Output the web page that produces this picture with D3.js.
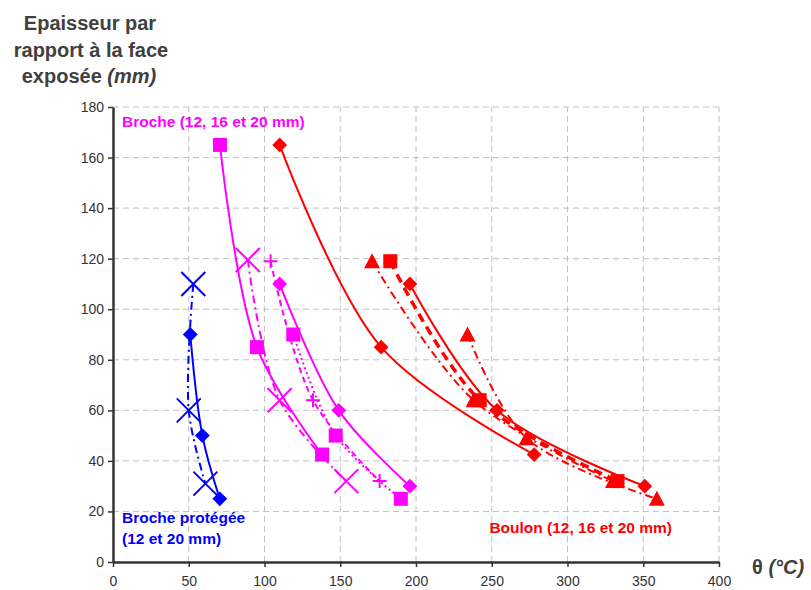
<!DOCTYPE html>
<html>
<head>
<meta charset="utf-8">
<script src="https://cdn.jsdelivr.net/npm/d3@7.9.0/dist/d3.min.js"></script>
<style>
  body { margin: 0; background: #fff; }
  svg { font-family: "Liberation Sans", Arial, sans-serif; }
</style>
</head>
<body>
<div id="chart"></div>
<script>
// Chart size
const width = 811;
const height = 590;

// Axis ticks
const xTicks = [0, 50, 100, 150, 200, 250, 300, 350, 400];
const yTicks = [0, 20, 40, 60, 80, 100, 120, 140, 160, 180];

// Broche protégée (blue)
const blueDiamond = [[51, 90], [59, 50], [70.5, 25]];
const blueX = [[53, 110], [50, 60], [61, 31]];

// Broche (magenta)
const magSquareA = [[70.6, 165], [95, 85], [138, 42.5]];
const magX = [[89, 119.5], [110, 64], [154, 32]];
const magDiamond = [[110, 110], [149, 60], [196, 30]];
const magPlus = [[104, 119], [132, 64], [176, 32]];
const magSquareB = [[119, 90], [147, 50], [190, 25]];

// Boulon (red)
const redDiamondA = [[110, 165], [177, 85], [278, 42.5]];
const redDiamondB = [[196, 110], [253.5, 60], [351, 30]];
const redSquare = [[183, 119], [242, 64], [333, 32]];
const redTriA = [[171, 119], [238, 64], [330, 32]];
const redTriB = [[234, 90], [273, 49], [359, 25]];

const BLUE = "#0000ff";
const MAGENTA = "#ff00ff";
const RED = "#ff0000";

const series = [
  { data: blueDiamond, color: BLUE, marker: "diamond", dash: null, sw: 2 },
  { data: blueX, color: BLUE, marker: "x", dash: "8,4,2,4", sw: 2 },
  { data: magSquareA, color: MAGENTA, marker: "square", dash: null, sw: 2 },
  { data: magX, color: MAGENTA, marker: "x", dash: "8,4,2,4", sw: 2 },
  { data: magDiamond, color: MAGENTA, marker: "diamond", dash: null, sw: 2 },
  { data: magPlus, color: MAGENTA, marker: "plus", dash: "6,4", sw: 2 },
  { data: magSquareB, color: MAGENTA, marker: "square", dash: "2,3", sw: 2 },
  { data: redDiamondA, color: RED, marker: "diamond", dash: null, sw: 2 },
  { data: redDiamondB, color: RED, marker: "diamond", dash: null, sw: 2 },
  { data: redSquare, color: RED, marker: "square", dash: "9,6", sw: 3.5 },
  { data: redTriA, color: RED, marker: "triangle", dash: "8,4,2,4", sw: 2 },
  { data: redTriB, color: RED, marker: "triangle", dash: "8,4,2,4", sw: 2 }
];

const xScale = d3.scaleLinear().domain([0, 400]).range([113, 719]);
const yScale = d3.scaleLinear().domain([0, 180]).range([562, 107]);

const svg = d3.select("#chart").append("svg")
  .attr("width", width)
  .attr("height", height);

// Grid
svg.append("g").selectAll("line")
  .data(yTicks.filter(d => d > 0))
  .join("line")
  .attr("x1", xScale(0)).attr("x2", xScale(400))
  .attr("y1", d => yScale(d)).attr("y2", d => yScale(d))
  .attr("stroke", "#c0c0c0").attr("stroke-dasharray", "6,4");
svg.append("g").selectAll("line")
  .data(xTicks.filter(d => d > 0))
  .join("line")
  .attr("y1", yScale(0)).attr("y2", yScale(180))
  .attr("x1", d => xScale(d)).attr("x2", d => xScale(d))
  .attr("stroke", "#c0c0c0").attr("stroke-dasharray", "6,4");

// Axes
const xAxis = svg.append("g")
  .attr("transform", `translate(0,${yScale(0)})`)
  .call(d3.axisBottom(xScale).tickValues(xTicks).tickSize(5).tickSizeOuter(0).tickPadding(9));
const yAxis = svg.append("g")
  .attr("transform", `translate(${xScale(0)},0)`)
  .call(d3.axisLeft(yScale).tickValues(yTicks).tickSize(5).tickSizeOuter(0).tickPadding(4));
[xAxis, yAxis].forEach(ax => {
  ax.select(".domain").attr("stroke", "#333").attr("stroke-width", 2.5);
  ax.selectAll(".tick line").attr("stroke", "#333").attr("stroke-width", 1.5);
  ax.selectAll(".tick text")
    .attr("fill", "#333")
    .style("font-size", "14px")
    .style("font-family", "Liberation Sans, Arial, sans-serif");
});

// Lines
const line = d3.line()
  .x(d => xScale(d[0]))
  .y(d => yScale(d[1]))
  .curve(d3.curveCatmullRom.alpha(0.5));

const plot = svg.append("g");
series.forEach(s => {
  plot.append("path")
    .datum(s.data)
    .attr("d", line)
    .attr("fill", "none")
    .attr("stroke", s.color)
    .attr("stroke-width", s.sw)
    .attr("stroke-dasharray", s.dash);
});

// Markers
function drawMarker(g, type, color) {
  if (type === "diamond") {
    g.append("rect").attr("x", -5.25).attr("y", -5.25).attr("width", 10.5).attr("height", 10.5)
      .attr("transform", "rotate(45)").attr("fill", color);
  } else if (type === "square") {
    g.append("rect").attr("x", -7).attr("y", -7).attr("width", 14).attr("height", 14)
      .attr("fill", color);
  } else if (type === "triangle") {
    g.append("path").attr("d", "M0,-8L8,7L-8,7Z").attr("fill", color);
  } else if (type === "x") {
    g.append("path").attr("d", "M-12,-12L12,12M-12,12L12,-12")
      .attr("stroke", color).attr("stroke-width", 2).attr("fill", "none");
  } else if (type === "plus") {
    g.append("path").attr("d", "M-7,0L7,0M0,-7L0,7")
      .attr("stroke", color).attr("stroke-width", 2).attr("fill", "none");
  }
}
series.forEach(s => {
  s.data.forEach(d => {
    const g = plot.append("g")
      .attr("transform", `translate(${xScale(d[0])},${yScale(d[1])})`);
    drawMarker(g, s.marker, s.color);
  });
});

// Y title
const yTitle = svg.append("text")
  .attr("text-anchor", "middle")
  .attr("fill", "#404040")
  .style("font-size", "20px")
  .style("font-weight", "bold");
yTitle.append("tspan").attr("x", 90).attr("y", 30).text("Epaisseur par");
yTitle.append("tspan").attr("x", 91).attr("y", 57).text("rapport à la face");
const l3 = yTitle.append("tspan").attr("x", 89).attr("y", 83);
l3.append("tspan").text("exposée ");
l3.append("tspan").style("font-style", "italic").text("(mm)");

// X title
const xTitle = svg.append("text")
  .attr("x", 752).attr("y", 574)
  .attr("fill", "#404040")
  .style("font-size", "20px")
  .style("font-weight", "bold");
xTitle.append("tspan").text("θ ");
xTitle.append("tspan").style("font-style", "italic").text("(°C)");

// Series labels
svg.append("text")
  .attr("x", 122).attr("y", 127)
  .attr("fill", MAGENTA)
  .style("font-size", "15.5px").style("font-weight", "bold")
  .text("Broche (12, 16 et 20 mm)");
svg.append("text")
  .attr("x", 122).attr("y", 523)
  .attr("fill", BLUE)
  .style("font-size", "15.5px").style("font-weight", "bold")
  .text("Broche protégée");
svg.append("text")
  .attr("x", 122).attr("y", 544)
  .attr("fill", BLUE)
  .style("font-size", "15.5px").style("font-weight", "bold")
  .text("(12 et 20 mm)");
svg.append("text")
  .attr("x", 672).attr("y", 533)
  .attr("text-anchor", "end")
  .attr("fill", RED)
  .style("font-size", "15.5px").style("font-weight", "bold")
  .text("Boulon (12, 16 et 20 mm)");
</script>
</body>
</html>
